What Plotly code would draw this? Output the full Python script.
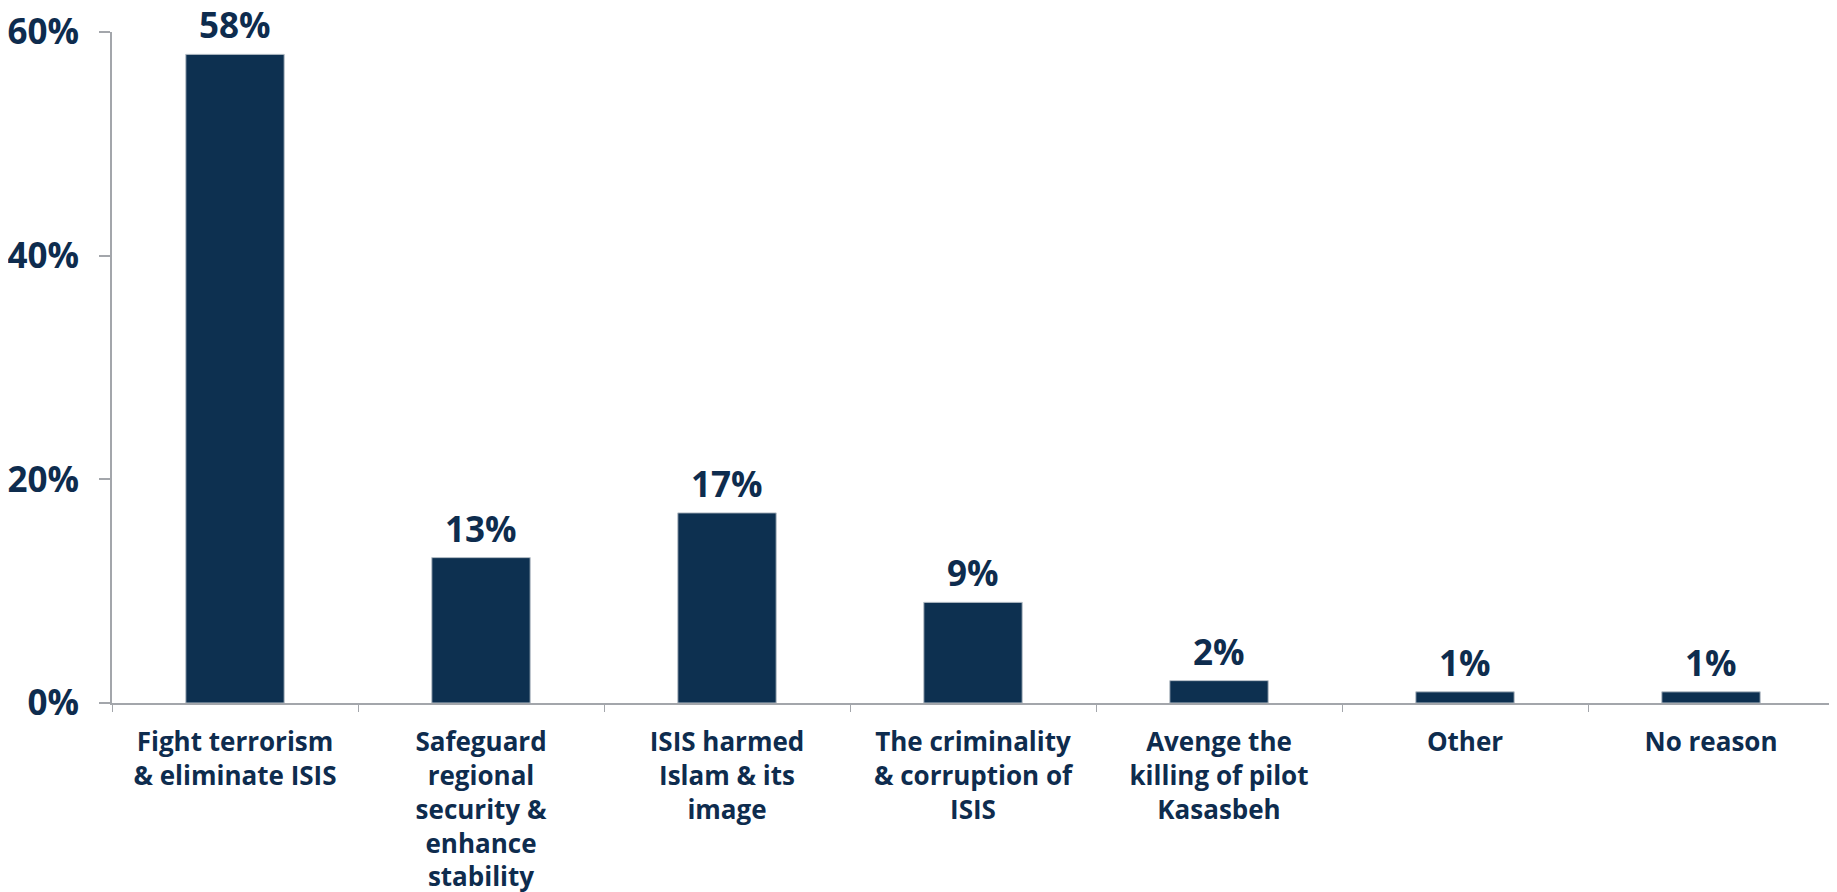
import plotly.graph_objects as go

categories = [
    "Fight terrorism<br>& eliminate ISIS",
    "Safeguard<br>regional<br>security &<br>enhance<br>stability",
    "ISIS harmed<br>Islam & its<br>image",
    "The criminality<br>& corruption of<br>ISIS",
    "Avenge the<br>killing of pilot<br>Kasasbeh",
    "Other",
    "No reason",
]
values = [58, 13, 17, 9, 2, 1, 1]
value_labels = [f"{v}%" for v in values]
y_ticks = [0, 20, 40, 60]
y_tick_text = ["0%", "20%", "40%", "60%"]

NAVY = "#0D3050"
TEXT = "#0E2C4E"
AXIS = "#A3A6AB"
FONT = "Open Sans"

fig = go.Figure(
    go.Bar(
        x=categories,
        y=values,
        marker=dict(color=NAVY, line=dict(color="#B8C0C8", width=1)),
        width=0.4,
        hoverinfo="skip",
    )
)

for c, v, t in zip(categories, values, value_labels):
    fig.add_annotation(
        x=c, y=v, text=f"<b>{t}</b>", showarrow=False,
        yanchor="bottom", yshift=4,
        font=dict(family=FONT, size=35, color=TEXT),
    )

fig.update_layout(
    width=1837, height=892,
    margin=dict(l=104, r=11, t=24, b=197),
    paper_bgcolor="white", plot_bgcolor="white",
    showlegend=False,
    bargap=0.6,
    font=dict(family=FONT, color=TEXT),
)
fig.update_xaxes(
    automargin=False,
    showline=True, linecolor=AXIS, linewidth=2,
    ticks="outside", tickson="boundaries", ticklen=7, tickcolor=AXIS, tickwidth=1,
    tickfont=dict(family=FONT, size=26, color=TEXT, weight="bold"),
    showgrid=False, zeroline=False,
    ticklabelstandoff=15,
)
fig.update_yaxes(
    automargin=False,
    range=[0, 60],
    showline=True, linecolor=AXIS, linewidth=2,
    ticks="outside", ticklen=11, tickcolor=AXIS, tickwidth=2,
    tickvals=y_ticks, ticktext=[f"<b>{t}</b>" for t in y_tick_text],
    tickfont=dict(family=FONT, size=35, color=TEXT),
    showgrid=False, zeroline=False,
    ticklabelstandoff=13,
    ticklabeloverflow="allow",
)

fig.write_html("out.html")
